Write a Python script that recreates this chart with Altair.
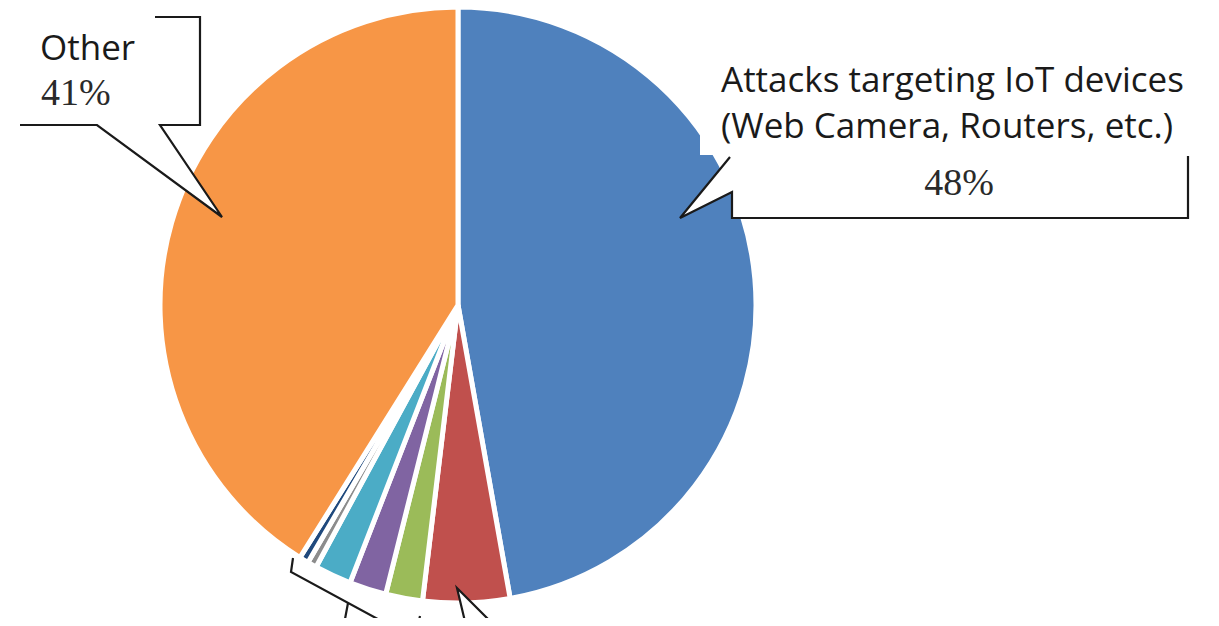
import altair as alt
import pandas as pd

# ---- pie data ----
categories = ["IoT", "Cat2", "Cat3", "Cat4", "Cat5", "Cat6", "Cat7", "Other"]
values = [47.2, 4.7, 2.0, 2.0, 2.0, 0.5, 0.5, 41.1]
colors = ["#4F81BD", "#C0504D", "#9BBB59", "#8064A2", "#4BACC6", "#8C8C8C", "#1F497D", "#F79646"]

# ---- label texts ----
label_other = "Other"
label_other_pct = "41%"
label_iot_1 = "Attacks targeting IoT devices"
label_iot_2 = "(Web Camera, Routers, etc.)"
label_iot_pct = "48%"

# ---- callout outlines (pixel positions of annotation shapes) ----
callout_other_x = [147, 192, 192, 152, 214, 89, 12]
callout_other_y = [9, 9, 117, 117, 209, 117, 117]
callout_iot_x = [722, 672, 724, 724, 1180, 1180]
callout_iot_y = [149, 210, 184, 210, 210, 148]
callout_red_x = [459, 449, 491]
callout_red_y = [622, 580, 622]
bracket_a_x = [285, 283, 390]
bracket_a_y = [550, 564, 622]
bracket_b_x = [340, 335]
bracket_b_y = [595, 622]
bracket_c_x = [412, 409]
bracket_c_y = [608, 622]

pie_df = pd.DataFrame({
    "cat": categories,
    "value": values,
    "idx": list(range(len(categories))),
})

pie = alt.Chart(pie_df).mark_arc(radius=298, stroke="white", strokeWidth=5).encode(
    theta=alt.Theta("value:Q", stack=True),
    order=alt.Order("idx:Q"),
    color=alt.Color("cat:N", scale=alt.Scale(domain=categories, range=colors), legend=None),
    x=alt.value(450),
    y=alt.value(297),
)


def shape_df(xs, ys, name):
    return pd.DataFrame({"px": xs, "py": ys, "k": list(range(len(xs))), "shape": name})


X = lambda: alt.X("px:Q", scale=None, axis=None)
Y = lambda: alt.Y("py:Q", scale=None, axis=None)

filled = pd.concat([
    shape_df(callout_other_x, callout_other_y, "other"),
    shape_df(callout_iot_x, callout_iot_y, "iot"),
    shape_df(callout_red_x, callout_red_y, "red"),
])
callouts_fill = alt.Chart(filled).mark_line(
    fill="white", stroke="#1a1a1a", strokeWidth=2.2, strokeJoin="miter", interpolate="linear"
).encode(x=X(), y=Y(), order="k:Q", detail="shape:N")

open_lines = pd.concat([
    shape_df(bracket_a_x, bracket_a_y, "a"),
    shape_df(bracket_b_x, bracket_b_y, "b"),
    shape_df(bracket_c_x, bracket_c_y, "c"),
])
brackets = alt.Chart(open_lines).mark_line(
    stroke="#1a1a1a", strokeWidth=2.2, strokeJoin="miter"
).encode(x=X(), y=Y(), order="k:Q", detail="shape:N")

# white background behind the IoT label
bg = alt.Chart(pd.DataFrame({"a": [0]})).mark_rect(color="white").encode(
    x=alt.value(692), x2=alt.value(1203), y=alt.value(40), y2=alt.value(147)
)

sans = "Open Sans"
serif = "Liberation Serif"

t_other = alt.Chart().mark_text(
    text=label_other, font=sans, fontSize=35, align="left", baseline="alphabetic", color="#1a1a1a"
).encode(x=alt.value(32), y=alt.value(52))
t_other_pct = alt.Chart().mark_text(
    text=label_other_pct, font=serif, fontSize=38, align="left", baseline="alphabetic", color="#2a2a2a"
).encode(x=alt.value(33), y=alt.value(97))
t_iot1 = alt.Chart().mark_text(
    text=label_iot_1, font=sans, fontSize=35, align="left", baseline="alphabetic", color="#1a1a1a"
).encode(x=alt.value(713), y=alt.value(84))
t_iot2 = alt.Chart().mark_text(
    text=label_iot_2, font=sans, fontSize=35, align="left", baseline="alphabetic", color="#1a1a1a"
).encode(x=alt.value(713), y=alt.value(130))
t_iot_pct = alt.Chart().mark_text(
    text=label_iot_pct, font=serif, fontSize=38, align="center", baseline="alphabetic", color="#2a2a2a"
).encode(x=alt.value(951), y=alt.value(187))

chart = alt.layer(
    pie, callouts_fill, brackets, bg, t_other, t_other_pct, t_iot1, t_iot2, t_iot_pct
).properties(
    width=1203, height=610, padding=0, autosize=alt.AutoSizeParams(type="none")
).configure_view(stroke=None)

chart.save("out.html", embed_options={"renderer": "svg", "actions": False})
